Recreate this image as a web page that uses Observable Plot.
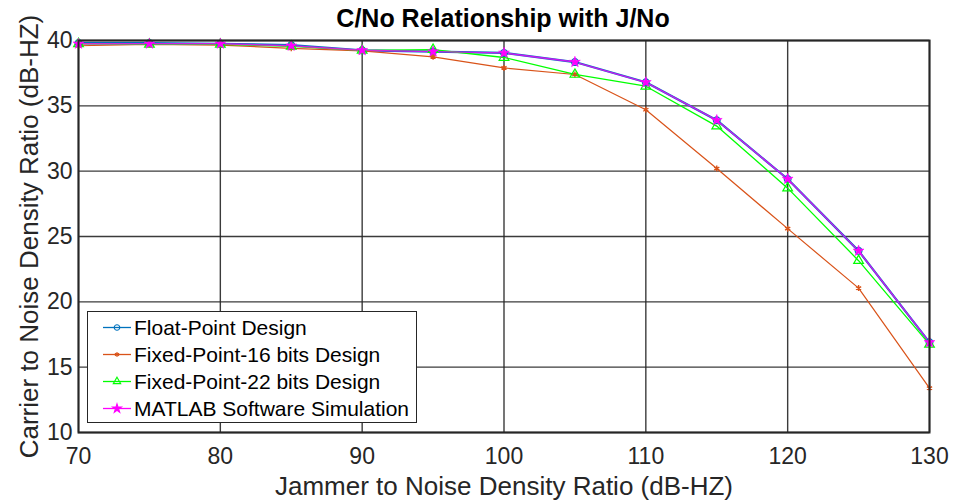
<!DOCTYPE html>
<html>
<head>
<meta charset="utf-8">
<script src="https://cdn.jsdelivr.net/npm/d3@7"></script>
<script src="https://cdn.jsdelivr.net/npm/@observablehq/plot@0.6"></script>
<style>
  body { margin: 0; background: #fff; font-family: "Liberation Sans", Arial, sans-serif; }
  #chart { position: relative; width: 955px; height: 504px; overflow: hidden; }
  #title { height: 36px; line-height: 36px; padding-left: 51px; width: 904px; text-align: center;
           font-weight: bold; font-size: 25px; color: #000; }
  #legend { position: absolute; left: 87px; top: 311px; width: 330px; height: 112px; box-sizing: border-box;
            border: 1px solid #262626; background: #fff; padding-top: 2px; z-index: 2; }
  .row { display: flex; align-items: center; height: 27px; font-size: 21px; color: #000; white-space: nowrap; }
  .row svg { flex: none; }
</style>
</head>
<body>
<div id="chart">
  <div id="title">C/No Relationship with J/No</div>
  <div id="legend"></div>
</div>
<script>
// Jammer-to-noise density ratio (dB-Hz) sweep
const jammer = [70, 75, 80, 85, 90, 95, 100, 105, 110, 115, 120, 125, 130];

// Measured carrier-to-noise density ratio (dB-Hz) for each design
const floatPoint = [39.8, 39.8, 39.75, 39.65, 39.25, 39.15, 39.05, 38.35, 36.8, 33.9, 29.4, 23.9, 16.9];
const fixed16    = [39.6, 39.7, 39.65, 39.4, 39.2, 38.75, 37.9, 37.4, 34.7, 30.2, 25.6, 21.05, 13.4];
const fixed22    = [39.75, 39.7, 39.7, 39.55, 39.25, 39.3, 38.7, 37.4, 36.5, 33.45, 28.7, 23.15, 16.75];
const matlabSim  = [39.75, 39.75, 39.75, 39.6, 39.25, 39.15, 39.05, 38.35, 36.8, 33.9, 29.4, 23.9, 16.9];

const seriesNames = ["Float-Point Design", "Fixed-Point-16 bits Design", "Fixed-Point-22 bits Design", "MATLAB Software Simulation"];

const xTicks = [70, 80, 90, 100, 110, 120, 130];
const yTicks = [10, 15, 20, 25, 30, 35, 40];

const xLabel = "Jammer to Noise Density Ratio (dB-HZ)";
const yLabel = "Carrier to Noise Density Ratio (dB-HZ)";

// Drawing styles per series
const styles = [
  {color: "#0072BD", symbol: "circle",   fill: "none",    r: 3.4, lineWidth: 2.2, lineOpacity: 1,   dotStroke: 1.2},
  {color: "#D95319", symbol: "asterisk", fill: "none",    r: 2.8, lineWidth: 1.2, lineOpacity: 1,   dotStroke: 1.4},
  {color: "#00FF00", symbol: "triangle", fill: "none",    r: 3.6, lineWidth: 1.3, lineOpacity: 1,   dotStroke: 1.2},
  {color: "#FF00FF", symbol: "star",     fill: "#FF00FF", r: 3.4, lineWidth: 1.4, lineOpacity: 0.8, dotStroke: 0.6}
];

const values = [floatPoint, fixed16, fixed22, matlabSim];
const tables = values.map(v => jammer.map((x, i) => ({x, y: v[i]})));

const marks = [
  Plot.gridX(xTicks, {stroke: "#262626", strokeOpacity: 0.9, strokeWidth: 1.4}),
  Plot.gridY(yTicks, {stroke: "#262626", strokeOpacity: 0.9, strokeWidth: 1.4}),
  Plot.axisX(xTicks, {tickSize: 0, tickPadding: 15, fontSize: 23, label: null, fill: "#262626"}),
  Plot.axisY(yTicks, {tickSize: 0, tickPadding: 6, fontSize: 23, label: null, fill: "#262626"})
];

tables.forEach((data, k) => {
  const s = styles[k];
  marks.push(Plot.line(data, {x: "x", y: "y", stroke: s.color, strokeWidth: s.lineWidth, strokeOpacity: s.lineOpacity}));
});
tables.forEach((data, k) => {
  const s = styles[k];
  marks.push(Plot.dot(data, {x: "x", y: "y", symbol: () => s.symbol, r: s.r, stroke: s.color, fill: s.fill, strokeWidth: s.dotStroke}));
});

marks.push(
  Plot.frame({stroke: "#262626", strokeWidth: 2}),
  Plot.text([xLabel], {frameAnchor: "bottom", dy: 62, fontSize: 26, fill: "#262626"}),
  Plot.text([yLabel], {frameAnchor: "left", rotate: -90, dx: -49, textAnchor: "middle", fontSize: 26, fill: "#262626"})
);

const chart = Plot.plot({
  width: 955,
  height: 468,
  marginTop: 4,
  marginBottom: 72,
  marginLeft: 78,
  marginRight: 26,
  x: {domain: [70, 130]},
  y: {domain: [10, 40]},
  symbol: {type: "identity"},
  style: {fontFamily: "'Liberation Sans', Arial, sans-serif", fontSize: "23px", color: "#262626", background: "#fff", overflow: "visible"},
  marks
});
document.getElementById("chart").appendChild(chart);

// Legend: line sample with marker, then series name
const legend = d3.select("#legend");
seriesNames.forEach((name, k) => {
  const s = styles[k];
  const row = legend.append("div").attr("class", "row");
  const svg = row.append("svg").attr("width", 46).attr("height", 27);
  svg.append("line").attr("x1", 15).attr("x2", 43).attr("y1", 13.5).attr("y2", 13.5)
    .attr("stroke", s.color).attr("stroke-width", 1.3);
  const symType = {circle: d3.symbolCircle, asterisk: d3.symbolAsterisk, triangle: d3.symbolTriangle, star: d3.symbolStar}[s.symbol];
  const size = k === 1 ? 16 : 24;
  svg.append("path").attr("d", d3.symbol(symType, size)()).attr("transform", "translate(29,13.5)")
    .attr("stroke", s.color).attr("fill", s.fill).attr("stroke-width", 1.1);
  row.append("span").text(name);
});
</script>
</body>
</html>
